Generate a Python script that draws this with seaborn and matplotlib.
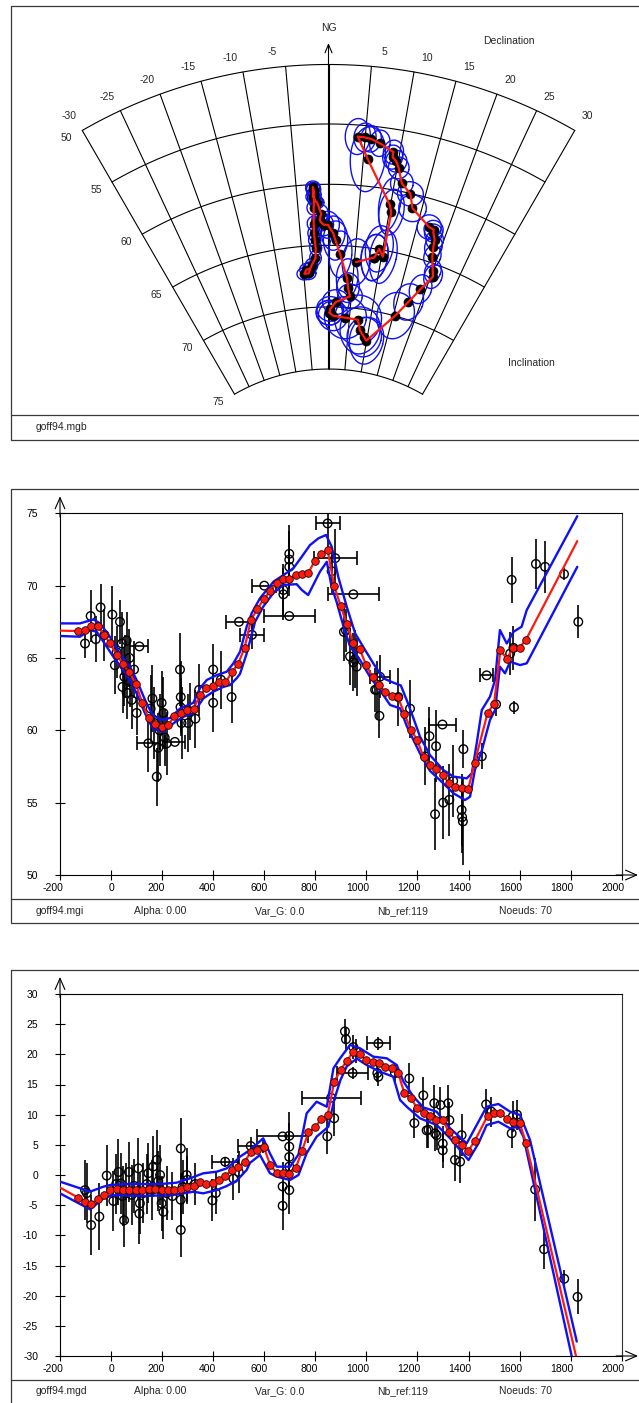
import numpy as np
import matplotlib
matplotlib.use("Agg")
import matplotlib.pyplot as plt
import matplotlib.transforms as mtransforms
from matplotlib.patches import Rectangle
import seaborn as sns

# ---------------- data ----------------
# curve nodes (years) and fitted values
knot_years = [-128, -103, -78, -53, -28, -3, 22, 47, 72, 97,
              122, 147, 172, 198, 223, 248, 273, 298, 323, 348,
              373, 398, 423, 448, 473, 498, 523, 548, 573, 598,
              623, 648, 673, 698, 723, 748, 773, 798, 823, 848,
              874, 899, 924, 949, 974, 999, 1024, 1049, 1074, 1099,
              1124, 1149, 1174, 1199, 1224, 1249, 1274, 1299, 1324, 1349,
              1374, 1399, 1424, 1475, 1500, 1525, 1550, 1575, 1600, 1625]
inc_knots = [66.86, 66.91, 67.23, 67.23, 66.59, 66.01, 65.2, 64.56, 64.0, 63.2,
             61.91, 60.83, 60.41, 60.2, 60.34, 60.99, 61.17, 61.4, 61.49, 62.42,
             62.9, 63.08, 63.32, 63.32, 64.0, 64.6, 65.71, 67.64, 68.38, 69.07,
             69.6, 70.16, 70.46, 70.46, 70.71, 70.82, 70.89, 71.72, 72.2, 72.46,
             69.97, 68.61, 67.32, 66.01, 65.62, 64.49, 63.71, 63.15, 62.65, 62.37,
             62.28, 61.15, 60.04, 59.33, 58.13, 57.62, 57.33, 56.91, 56.34, 56.06,
             55.99, 55.96, 57.76, 61.22, 61.82, 65.53, 64.95, 65.71, 65.71, 66.26]
dec_knots = [-3.76, -4.42, -4.86, -4.03, -3.32, -2.49, -2.37, -2.49, -2.55, -2.55,
             -2.43, -2.27, -2.32, -2.43, -2.43, -2.49, -2.27, -2.05, -1.83, -1.22,
             -1.5, -1.33, -0.83, -0.12, 0.83, 1.27, 2.21, 3.82, 4.14, 4.7,
             1.66, 0.39, 0.28, 0.17, 1.11, 4.03, 7.07, 7.9, 9.2, 9.89,
             15.46, 17.4, 18.95, 20.44, 20.05, 19.06, 18.68, 18.51, 17.95, 17.79,
             16.96, 13.54, 12.71, 11.1, 10.22, 9.72, 9.11, 9.11, 7.07, 5.8,
             4.97, 3.98, 5.63, 9.83, 10.32, 10.27, 9.33, 8.73, 8.67, 5.35]

# curve ends outside the node range
inc_tail_years = [-200, 1826]
inc_tail = [66.89, 73.08]
dec_tail_years = [-200, 1821]
dec_tail = [-2.1, -30.0]

# confidence envelopes
inc_up_years = [-200, -122, -69, -43, -4, 35, 74, 100, 133, 159, 192, 231, 270, 322, 348,
                375, 414, 453, 479, 505, 531, 551, 583, 636, 675, 714, 747, 779, 812, 842,
                864, 890, 923, 956, 995, 1027, 1066, 1105, 1135, 1160, 1185, 1210, 1249, 1301,
                1341, 1393, 1413, 1432, 1452, 1484, 1504, 1523, 1550, 1576, 1608, 1628, 1826]
inc_up = [67.39, 67.39, 67.66, 67.39, 66.45, 65.3, 64.4, 63.48, 62.1, 61.17, 60.71, 60.85, 61.5, 61.9, 62.9,
          63.48, 63.82, 64.05, 64.63, 65.43, 67.16, 68.1, 69.12, 70.27, 70.73, 71.2, 72.0, 72.8, 73.27, 73.5,
          72.7, 70.6, 68.55, 66.7, 65.55, 64.63, 63.6, 63.3, 63.1, 62.0, 60.8, 59.56, 58.29, 57.26,
          56.8, 56.68, 57.03, 59.1, 61.4, 62.32, 63.48, 66.93, 66.0, 66.81, 67.16, 68.31, 74.8]
inc_lo_years = [-200, -122, -82, -56, -17, 22, 61, 100, 133, 165, 205, 244, 283, 322, 361,
                400, 440, 466, 492, 505, 531, 564, 596, 636, 675, 727, 747, 772, 818, 845,
                864, 884, 910, 936, 975, 1014, 1053, 1093, 1132, 1158, 1210, 1249, 1301, 1341,
                1386, 1406, 1425, 1452, 1484, 1504, 1523, 1543, 1563, 1602, 1628, 1826]
inc_lo = [66.52, 66.47, 66.93, 66.81, 65.78, 64.74, 63.82, 62.56, 61.17, 60.1, 59.9, 60.48, 60.94, 61.17, 62.2,
          62.67, 63.0, 63.13, 63.6, 63.9, 65.3, 67.5, 68.55, 69.5, 70.05, 70.1, 69.7, 69.35, 70.96, 71.65,
          69.9, 68.84, 67.2, 65.8, 64.86, 63.7, 62.78, 61.75, 61.52, 60.3, 58.4, 57.2, 56.34, 55.65,
          55.18, 55.41, 57.26, 58.6, 60.71, 61.4, 64.4, 63.94, 64.74, 64.51, 64.63, 71.3]
dec_up_years = [-200, -82, -30, -4, 61, 192, 257, 309, 361, 414, 453, 492, 505, 544, 596,
                622, 649, 701, 734, 766, 805, 845, 871, 897, 936, 975, 1027, 1080, 1119, 1145,
                1184, 1223, 1275, 1328, 1393, 1432, 1471, 1517, 1563, 1602, 1641, 1824]
dec_up = [-1.1, -2.76, -1.94, -1.66, -1.5, -1.5, -1.27, -0.55, 0.28, 0.55, 1.1, 2.48, 3.04, 4.14, 6.08,
          3.6, 1.38, 1.38, 3.4, 10.22, 12.15, 11.32, 17.68, 19.34, 21.55, 21.0, 19.61, 19.34, 18.23, 15.5,
          13.0, 11.2, 10.49, 7.73, 5.24, 8.28, 11.32, 11.77, 10.49, 9.94, 5.8, -27.6]
dec_lo_years = [-200, -82, -30, 9, 126, 244, 322, 361, 414, 453, 492, 531, 544, 583, 622,
                649, 701, 734, 766, 805, 851, 874, 899, 923, 962, 1001, 1053, 1105, 1132, 1158,
                1210, 1275, 1328, 1400, 1439, 1471, 1517, 1563, 1595, 1615, 1804]
dec_lo = [-3.04, -5.7, -3.87, -3.32, -3.48, -3.32, -2.77, -3.04, -2.49, -1.83, -0.94, 0.83, 2.0, 3.32, 0.3,
          -0.28, -0.83, 0.0, 3.6, 6.35, 8.0, 12.5, 15.8, 18.0, 19.3, 18.23, 17.12, 16.3, 12.43, 11.32,
          9.39, 8.3, 6.08, 2.48, 5.24, 8.28, 8.83, 7.73, 8.0, 6.35, -30.0]

# reference data: inclination
inc_obs_years = [-102, -80, -60, -41, -26, 5, 15, 22, 35, 42, 45, 52, 55, 61, 61, 72, 75, 81, 90, 100,
                 111, 146, 155, 162, 170, 179, 185, 190, 198, 205, 210, 218, 250, 270, 273, 272, 276, 302,
                 308, 330, 345, 400, 400, 430, 472, 501, 552, 600, 675, 675, 698, 698, 698, 698, 848, 864,
                 878, 912, 920, 936, 949, 949, 955, 962, 1034, 1040, 1053, 1051, 1125, 1171, 1230, 1247,
                 1269, 1273, 1298, 1301, 1325, 1340, 1373, 1375, 1378, 1380, 1452, 1471, 1508, 1563, 1576,
                 1578, 1569, 1664, 1700, 1774, 1830]
inc_obs = [66.0, 67.9, 66.3, 68.5, 66.6, 68.0, 64.5, 65.4, 67.5, 66.0, 63.0, 63.7, 64.4, 66.2, 62.6, 65.0,
           63.4, 62.1, 64.2, 61.2, 65.8, 59.1, 61.5, 62.2, 60.5, 56.8, 58.8, 60.0, 61.9, 61.2, 59.5, 59.1,
           59.2, 64.2, 62.3, 61.6, 60.5, 60.5, 61.3, 60.8, 62.8, 64.2, 61.9, 63.5, 62.3, 67.5, 66.6, 70.0,
           69.4, 69.7, 72.2, 71.8, 71.3, 67.9, 74.3, 71.0, 71.9, 66.8, 66.9, 65.1, 69.4, 64.7, 64.9, 64.4,
           62.8, 62.8, 63.7, 61.0, 62.3, 61.5, 58.2, 59.6, 54.2, 58.9, 60.4, 55.0, 55.2, 56.5, 54.5, 54.0,
           53.7, 58.7, 58.2, 63.8, 61.8, 65.3, 65.7, 61.6, 70.4, 71.5, 71.3, 70.8, 67.5]
inc_obs_err = [1.0, 1.8, 1.6, 1.6, 1.8, 2.0, 2.0, 1.8, 1.5, 2.2, 1.8, 2.0, 2.2, 2.0, 1.8, 2.0,
               1.8, 2.0, 2.0, 1.5, 0.0, 2.0, 2.3, 2.3, 2.5, 2.0, 2.4, 2.5, 2.2, 2.5, 2.0, 2.2,
               0.0, 2.5, 2.5, 2.0, 2.5, 2.0, 2.0, 2.0, 1.8, 1.8, 2.0, 2.0, 1.8, 0.0, 1.0, 0.0,
               1.8, 1.8, 2.0, 2.0, 2.0, 0.0, 1.8, 1.5, 2.0, 2.0, 1.5, 2.0, 0.0, 2.0, 2.0, 2.0,
               1.5, 2.0, 1.5, 1.5, 2.0, 2.0, 2.0, 2.0, 2.5, 2.5, 0.0, 2.5, 2.5, 2.5, 2.5, 2.5,
               3.0, 1.3, 0.9, 0.0, 0.8, 1.5, 1.5, 0.45, 1.6, 1.7, 1.8, 0.4, 1.15]
inc_obs_terr = [0, 0, 0, 0, 0, 0, 0, 0, 0, 0, 0, 0, 0, 0, 0, 0, 0, 0, 0, 0,
                35, 45, 0, 0, 0, 0, 0, 0, 0, 0, 0, 0, 40, 0, 0, 0, 0, 0,
                0, 0, 0, 0, 0, 0, 0, 50, 48, 47, 0, 0, 0, 0, 0, 100, 47, 0,
                85, 0, 0, 0, 100, 0, 0, 0, 0, 0, 38, 0, 0, 0, 0, 0,
                0, 0, 52, 0, 0, 0, 0, 0, 0, 0, 0, 26, 0, 0, 0,
                0, 0, 0, 0, 0, 0]

# reference data: declination
dec_obs_years = [-102, -95, -78, -46, -17, 9, 20, 29, 38, 45, 51, 60, 70, 81, 90, 107, 111, 113, 126,
                 140, 146, 160, 165, 179, 185, 192, 198, 205, 218, 240, 273, 273, 273, 280, 296, 299,
                 330, 397, 410, 447, 479, 500, 547, 672, 672, 672, 698, 698, 698, 698, 698, 847, 862,
                 874, 916, 920, 946, 949, 960, 1043, 1047, 1047, 1112, 1168, 1188, 1223, 1236, 1243,
                 1266, 1269, 1275, 1290, 1299, 1299, 1321, 1325, 1347, 1367, 1373, 1469, 1490, 1569,
                 1573, 1590, 1661, 1696, 1775, 1827]
dec_obs = [-2.5, -3.0, -8.3, -6.9, -0.1, -4.3, -1.5, 0.5, -1.4, -3.5, -7.5, -3.0, 0.5, -3.3, -1.8, 1.1,
           -6.4, -4.7, -3.0, -1.5, 0.3, -2.5, 1.4, 2.5, -1.0, 0.0, -4.7, -6.1, -3.0, -3.5, 4.4, -9.1,
           -4.1, -2.0, 0.0, -0.8, -1.5, -4.2, -3.0, 2.2, -0.6, 0.5, 4.8, 6.4, -1.9, -5.1, 6.5, 4.7,
           3.0, 1.4, -2.5, 6.4, 12.8, 9.4, 23.8, 22.5, 16.9, 21.2, 20.5, 16.9, 21.8, 16.3, 16.9, 16.0,
           8.6, 13.2, 7.4, 7.5, 11.9, 6.9, 6.6, 11.6, 5.2, 4.1, 11.9, 9.1, 2.5, 2.2, 6.6, 11.7,
           10.5, 6.9, 9.7, 10.0, -2.4, -12.3, -17.2, -20.2]
dec_obs_err = [5.0, 5.0, 5.0, 5.5, 5.0, 5.0, 5.0, 5.5, 5.0, 5.0, 4.5, 5.0, 5.0, 5.0, 4.5, 5.0,
               5.0, 5.0, 5.0, 5.0, 5.0, 5.0, 5.0, 5.0, 5.0, 5.0, 4.5, 4.5, 4.5, 4.0, 5.0, 4.5,
               4.5, 4.5, 4.5, 4.0, 3.5, 3.5, 3.5, 0.8, 3.5, 3.5, 1.5, 0.0, 4.0, 4.0, 4.0, 4.0,
               4.0, 4.0, 4.0, 3.0, 0.0, 3.0, 2.0, 2.0, 1.0, 2.0, 2.0, 1.5, 1.0, 1.5, 1.5, 2.5,
               2.5, 3.0, 3.0, 3.0, 3.0, 3.0, 2.5, 3.0, 3.0, 3.0, 3.0, 3.0, 3.5, 3.5, 3.5, 2.5,
               2.5, 2.5, 2.5, 2.5, 5.3, 3.2, 1.4, 2.9]
dec_obs_terr = [0, 0, 0, 0, 0, 0, 0, 0, 0, 0, 0, 0, 0, 0, 0, 0, 0, 0, 0,
                0, 0, 0, 0, 0, 0, 0, 0, 0, 0, 0, 0, 0, 0, 0, 0, 0,
                0, 0, 0, 50, 0, 0, 50, 100, 0, 0, 0, 0, 0, 0, 0, 0, 115,
                0, 0, 0, 60, 0, 0, 0, 46, 0, 0, 0, 0, 0, 0, 0,
                0, 0, 0, 0, 0, 0, 0, 0, 0, 0, 0, 0, 0, 0,
                0, 0, 0, 0, 0, 0]

# confidence ellipse half-axes (degrees) for the direction plot
ell_dec = ([1.2, 1.3, 1.5, 1.5, 1.2] + [1.1] * 14 + [1.2, 1.3, 1.5, 1.7, 2.0, 2.1]
           + [2.2, 2.2, 2.2, 2.4, 2.7] + [3.0, 3.1, 3.1, 3.1, 3.5] + [5.0, 5.6, 5.0, 4.4, 4.4]
           + [4.2, 3.1, 2.2, 1.7, 1.5] + [1.5, 1.5, 1.5, 1.5, 1.6, 2.0] + [2.2, 2.0, 1.7, 1.5, 1.5]
           + [1.4, 1.4, 1.4, 1.4, 1.5, 1.7, 2.5] + [1.7, 2.0, 2.5, 2.5, 2.5, 2.5, 2.7])
ell_inc = ([0.55, 0.5, 0.5, 0.5, 0.55] + [0.6] * 8 + [0.5] * 6 + [0.75, 0.75, 0.75, 0.9, 1.1, 1.4]
           + [1.6, 1.9, 1.6, 1.2, 1.0] + [1.0, 1.0, 1.0, 1.0, 1.2] + [1.7, 2.0, 1.9, 1.6, 1.9]
           + [1.9, 1.5, 1.2, 1.0, 0.9] + [0.9, 0.9, 0.75, 0.75, 0.75, 1.0] + [1.1, 1.0, 1.0, 0.9, 0.9]
           + [1.0, 1.0, 1.1, 1.1, 1.2, 1.5, 2.7] + [2.2, 1.9, 2.2, 1.9, 1.9, 1.9, 1.9])

dec_grid = list(range(-30, 31, 5))
inc_grid = list(range(50, 76, 5))
year_ticks = list(range(-200, 2001, 200))
inc_ticks = list(range(50, 76, 5))
dec_ticks = list(range(-30, 31, 5))

footer_items = ["Alpha: 0.00", "Var_G: 0.0", "Nb_ref:119", "Noeuds: 70"]

# ---------------- layout ----------------
W, H, DPI = 639, 1403, 100
FS = 7.5
RED = "#ff1a0d"
BLUE = "#1010f5"


def px_rect(x0, y0, x1, y1):
    return [x0 / W, 1 - y1 / H, (x1 - x0) / W, (y1 - y0) / H]


def project(dec, inc):
    # equal-area polar projection around the vertical
    r = np.sin(np.radians(90.0 - np.asarray(inc, dtype=float)) / 2.0)
    d = np.radians(np.asarray(dec, dtype=float))
    return r * np.sin(d), r * np.cos(d)


sns.set_style("white")
plt.rcParams["font.family"] = ["Liberation Sans", "DejaVu Sans"]
plt.rcParams["axes.unicode_minus"] = False

fig = plt.figure(figsize=(W / DPI, H / DPI), dpi=DPI)

# background: panel frames and footers in pixel units
bg = fig.add_axes([0, 0, 1, 1], zorder=-5)
bg.set_xlim(0, W)
bg.set_ylim(H, 0)
bg.axis("off")
frame_kw = dict(fill=False, edgecolor="#3a3a3a", lw=0.9)
for top, sep, bottom in [(6, 415, 440), (489, 899, 923), (970, 1380, 1420)]:
    bg.add_patch(Rectangle((11, top), 660, bottom - top, **frame_kw))
    bg.plot([11, 660], [sep, sep], color="#3a3a3a", lw=0.9)

bg.text(36, 427, "goff94.mgb", fontsize=FS, va="center", ha="left")
for yy, name in [(911, "goff94.mgi"), (1391, "goff94.mgd")]:
    bg.text(36, yy, name, fontsize=FS, va="center", ha="left")
    for xx, item in zip([134, 255, 377, 499], footer_items):
        bg.text(xx, yy, item, fontsize=FS, va="center", ha="left")

# ---------------- top: direction plot ----------------
CX, CY, K = 328.5, 557.0, 1440.0
ax0 = fig.add_axes(px_rect(0, 0, W, 415))
ax0.set_xlim(-CX / K, (W - CX) / K)
ax0.set_ylim((CY - 415) / K, CY / K)
ax0.axis("off")

for d in dec_grid:
    gx, gy = project(np.full(40, d), np.linspace(50, 75, 40))
    ax0.plot(gx, gy, color="black", lw=0.8)
for i in inc_grid:
    gx, gy = project(np.linspace(-30, 30, 121), np.full(121, i))
    ax0.plot(gx, gy, color="black", lw=0.8)

for d in dec_grid:
    if d == 0:
        continue
    lx, ly = project(d, 50)
    ax0.annotate(str(d), (lx, ly), xytext=(13 * np.sign(d), 14), textcoords="offset pixels",
                 ha="center", va="center", fontsize=FS)
for i in inc_grid:
    lx, ly = project(-30, i)
    ax0.annotate(str(i), (lx, ly), xytext=(-16, -8), textcoords="offset pixels",
                 ha="center", va="center", fontsize=FS)

nx, ny = project(0, 75)
ax0.annotate("", xy=(nx, (CY - 43) / K), xytext=(nx, ny),
             arrowprops=dict(arrowstyle="->,head_length=0.6,head_width=0.25", lw=0.8,
                             color="black", shrinkA=0, shrinkB=0))
ax0.text(0.514, 0.932, "NG", transform=ax0.transAxes, ha="center", va="center", fontsize=FS)
ax0.text(0.796, 0.902, "Declination", transform=ax0.transAxes, ha="center", va="center", fontsize=FS)
ax0.text(0.831, 0.125, "Inclination", transform=ax0.transAxes, ha="center", va="center", fontsize=FS)

phi = np.linspace(0, 2 * np.pi, 60)
for d0, i0, a, b in zip(dec_knots, inc_knots, ell_dec, ell_inc):
    ex, ey = project(d0 + a * np.cos(phi), i0 + b * np.sin(phi))
    ax0.plot(ex, ey, color=BLUE, lw=1.0, zorder=3)

kx, ky = project(dec_knots, inc_knots)
sns.scatterplot(x=kx, y=ky, ax=ax0, color="black", s=42, edgecolor="black", linewidth=0.5, zorder=4)
sns.lineplot(x=kx, y=ky, ax=ax0, sort=False, estimator=None, color=RED, lw=1.6, zorder=5)


# ---------------- time series panels ----------------
def time_panel(rect, ylim, yticks, obs_t, obs_v, obs_e, obs_te,
               up_t, up_v, lo_t, lo_v, knots_v, tail_t, tail_v):
    ax = fig.add_axes(rect)
    ax.set_facecolor("none")
    ax.set_xlim(-200, 2000)
    ax.set_ylim(*ylim)
    for side in ["left", "bottom", "top", "right"]:
        ax.spines[side].set_visible(True)
        ax.spines[side].set_color("black")
        ax.spines[side].set_linewidth(0.8)
    ax.spines["right"].set_color("#333333")

    ax.set_xticks(year_ticks)
    ax.set_xticklabels([str(v) for v in year_ticks])
    ax.set_yticks(yticks)
    ax.set_yticklabels([str(v) for v in yticks])
    ax.tick_params(axis="both", direction="inout", length=7.5, width=0.8, labelsize=FS,
                   bottom=True, left=True, colors="black")
    ax.tick_params(axis="x", pad=2)
    ax.tick_params(axis="y", pad=12)
    shift = mtransforms.ScaledTranslation(3 / DPI, 0, fig.dpi_scale_trans)
    for lab in ax.get_xticklabels():
        lab.set_ha("right")
        lab.set_transform(lab.get_transform() + shift)

    arrow = dict(arrowstyle="->,head_length=0.8,head_width=0.35", lw=0.8, color="black",
                 shrinkA=0, shrinkB=0)
    ax.annotate("", xy=(0, 1.047), xycoords="axes fraction", xytext=(0, 0.99), arrowprops=arrow)
    ax.annotate("", xy=(1.029, 0), xycoords="axes fraction", xytext=(0.99, 0), arrowprops=arrow)

    obs_t = np.asarray(obs_t)
    obs_v = np.asarray(obs_v)
    obs_te = np.asarray(obs_te)
    ax.errorbar(obs_t, obs_v, yerr=obs_e, fmt="none", ecolor="black", elinewidth=1.2,
                capsize=0, zorder=2)
    has_t = obs_te > 0
    ax.errorbar(obs_t[has_t], obs_v[has_t], xerr=obs_te[has_t], fmt="none", ecolor="black",
                elinewidth=1.2, capsize=5, capthick=1.2, zorder=2)
    sns.scatterplot(x=obs_t, y=obs_v, ax=ax, s=38, facecolors="none", edgecolor="black",
                    linewidth=1.0, zorder=2.5)

    sns.lineplot(x=up_t, y=up_v, ax=ax, sort=False, estimator=None, color=BLUE, lw=1.7, zorder=3)
    sns.lineplot(x=lo_t, y=lo_v, ax=ax, sort=False, estimator=None, color=BLUE, lw=1.7, zorder=3)
    curve_t = [tail_t[0]] + knot_years + [tail_t[1]]
    curve_v = [tail_v[0]] + list(knots_v) + [tail_v[1]]
    sns.lineplot(x=curve_t, y=curve_v, ax=ax, sort=False, estimator=None, color=RED, lw=1.6, zorder=4)
    sns.scatterplot(x=knot_years, y=knots_v, ax=ax, s=30, color=RED, edgecolor="#2a0000",
                    linewidth=0.6, zorder=5)
    ax.set_xlabel("")
    ax.set_ylabel("")
    return ax


time_panel(px_rect(60, 513.3, 621.7, 875), (50, 75), inc_ticks,
           inc_obs_years, inc_obs, inc_obs_err, inc_obs_terr,
           inc_up_years, inc_up, inc_lo_years, inc_lo, inc_knots, inc_tail_years, inc_tail)
time_panel(px_rect(60, 994, 621.7, 1356), (-30, 30), dec_ticks,
           dec_obs_years, dec_obs, dec_obs_err, dec_obs_terr,
           dec_up_years, dec_up, dec_lo_years, dec_lo, dec_knots, dec_tail_years, dec_tail)

fig.savefig("out.png", dpi=DPI)
